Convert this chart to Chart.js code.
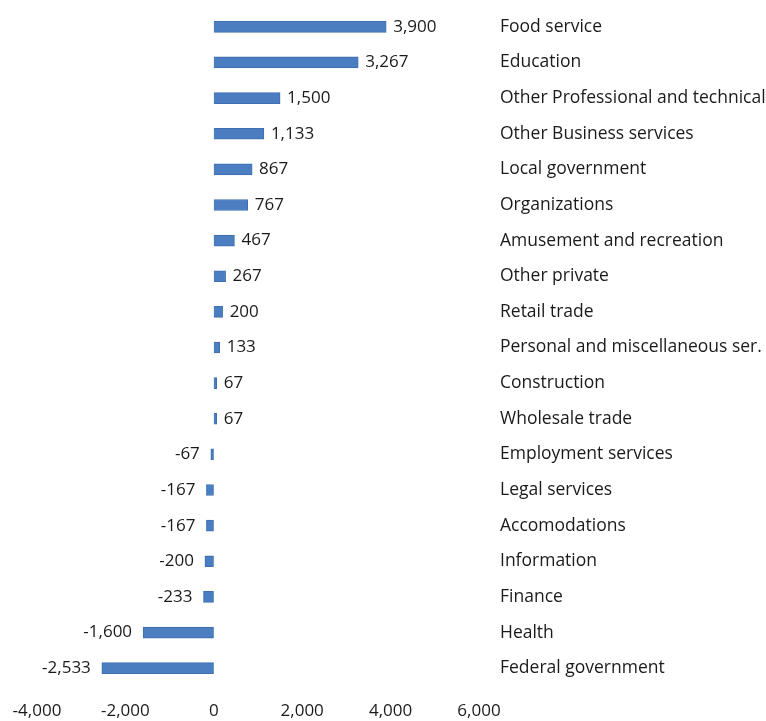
<!DOCTYPE html>
<html>
  <head>
    <title>Job change by sector</title>
    <script src="https://cdn.jsdelivr.net/npm/chart.js@4/dist/chart.umd.min.js"></script>
    <style>
      body { margin: 0; background: #fff; }
      #wrap { width: 766px; height: 721px; }
    </style>
  </head>
  <body>
    <div id="wrap"><canvas id="canvas"></canvas></div>
    <script>
      const sectors = [
        'Food service', 'Education', 'Other Professional and technical',
        'Other Business services', 'Local government', 'Organizations',
        'Amusement and recreation', 'Other private', 'Retail trade',
        'Personal and miscellaneous ser.', 'Construction', 'Wholesale trade',
        'Employment services', 'Legal services', 'Accomodations',
        'Information', 'Finance', 'Health', 'Federal government'
      ];
      const jobChange = [
        3900, 3267, 1500, 1133, 867, 767, 467, 267, 200, 133, 67, 67,
        -67, -167, -167, -200, -233, -1600, -2533
      ];
      const xTicks = [-4000, -2000, 0, 2000, 4000, 6000];

      const FONT = '"Open Sans", sans-serif';
      const TEXT = '#1a1a1a';

      // value labels beside each bar
      const valueLabels = {
        id: 'valueLabels',
        afterDatasetsDraw(chart) {
          const ctx = chart.ctx;
          const meta = chart.getDatasetMeta(0);
          ctx.save();
          ctx.font = '17px ' + FONT;
          ctx.fillStyle = TEXT;
          ctx.textBaseline = 'middle';
          meta.data.forEach((bar, i) => {
            const v = jobChange[i];
            const txt = v.toLocaleString('en-US');
            if (v >= 0) {
              ctx.textAlign = 'left';
              ctx.fillText(txt, bar.x + 7, bar.y);
            } else {
              ctx.textAlign = 'right';
              ctx.fillText(txt, bar.x - 11, bar.y);
            }
          });
          ctx.restore();
        }
      };

      new Chart(document.getElementById('canvas'), {
        type: 'bar',
        data: {
          labels: sectors,
          datasets: [{
            data: jobChange,
            backgroundColor: '#4a7ec0',
            borderColor: '#3e6fae',
            borderWidth: 1,
            barThickness: 11
          }]
        },
        options: {
          indexAxis: 'y',
          responsive: true,
          maintainAspectRatio: false,
          animation: false,
          layout: { padding: { top: 9, left: 37 } },
          plugins: {
            legend: { display: false },
            tooltip: { enabled: false }
          },
          scales: {
            x: {
              min: -4000,
              max: 6000,
              afterBuildTicks(axis) {
                axis.ticks = xTicks.map(v => ({ value: v }));
              },
              grid: { display: false },
              border: { display: false },
              ticks: {
                color: TEXT,
                padding: 7,
                font: { family: FONT, size: 17 },
                callback: v => v.toLocaleString('en-US')
              },
              afterFit(axis) { axis.height = 35; }
            },
            y: {
              position: 'right',
              grid: { display: false, drawTicks: false },
              border: { display: false },
              ticks: {
                color: TEXT,
                padding: 21,
                font: { family: FONT, size: 17.5 }
              },
              afterFit(axis) {
                axis.width = 287;
                axis.paddingTop = 0;
                axis.paddingBottom = 0;
              }
            }
          }
        },
        plugins: [valueLabels]
      });
    </script>
  </body>
</html>
